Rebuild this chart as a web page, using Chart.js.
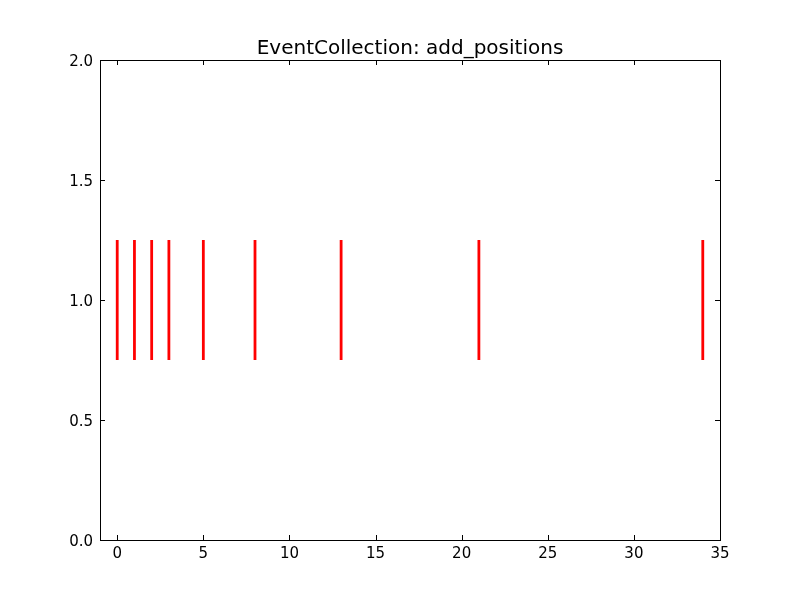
<!DOCTYPE html>
<html>
<head>
<meta charset="utf-8">
<script src="https://cdn.jsdelivr.net/npm/chart.js@4"></script>
<style>
  html, body { margin: 0; padding: 0; background: #fff; }
  #wrap { width: 800px; height: 600px; }
</style>
</head>
<body>
<div id="wrap"><canvas id="chart" width="800" height="600"></canvas></div>
<script>
const titleText = "EventCollection: add_positions";
const positions = [0, 1, 2, 3, 5, 8, 13, 21, 34];
const lineOffset = 1.0;
const lineLength = 0.5;
const xTicks = [0, 5, 10, 15, 20, 25, 30, 35];
const yTicks = [0.0, 0.5, 1.0, 1.5, 2.0];

const FONT = "'DejaVu Sans', sans-serif";

// one small dataset per event line
const datasets = positions.map((p) => ({
  data: [
    { x: p, y: lineOffset - lineLength / 2 },
    { x: p, y: lineOffset + lineLength / 2 },
  ],
  showLine: true,
  borderColor: "#ff0000",
  borderWidth: 2.8,
  pointRadius: 0,
  borderCapStyle: "butt",
}));

// frame + inward ticks on all four sides, plus title
const framePlugin = {
  id: "frame",
  afterDraw(chart) {
    const { ctx, chartArea: a, scales } = chart;
    ctx.save();
    ctx.strokeStyle = "#000";
    ctx.lineWidth = 1;
    const tl = 5;
    ctx.beginPath();
    xTicks.forEach((v) => {
      const px = Math.round(scales.x.getPixelForValue(v)) + 0.5;
      ctx.moveTo(px, a.bottom); ctx.lineTo(px, a.bottom - tl);
      ctx.moveTo(px, a.top); ctx.lineTo(px, a.top + tl);
    });
    yTicks.forEach((v) => {
      const py = Math.round(scales.y.getPixelForValue(v)) + 0.5;
      ctx.moveTo(a.left, py); ctx.lineTo(a.left + tl, py);
      ctx.moveTo(a.right, py); ctx.lineTo(a.right - tl, py);
    });
    ctx.stroke();
    ctx.strokeRect(a.left + 0.5, a.top + 0.5, a.right - a.left, a.bottom - a.top);

    ctx.fillStyle = "#000";
    ctx.font = "20px " + FONT;
    ctx.textAlign = "center";
    ctx.textBaseline = "alphabetic";
    ctx.fillText(titleText, (a.left + a.right) / 2, a.top - 6);
    ctx.restore();
  },
};

new Chart(document.getElementById("chart"), {
  type: "scatter",
  data: { datasets },
  options: {
    responsive: false,
    animation: false,
    layout: { padding: { top: 60, right: 80, left: 0, bottom: 0 } },
    plugins: { legend: { display: false }, tooltip: { enabled: false } },
    scales: {
      x: {
        type: "linear",
        min: -1,
        max: 35,
        afterBuildTicks: (s) => { s.ticks = xTicks.map((v) => ({ value: v })); },
        afterFit: (s) => { s.height = 60; },
        grid: { display: false, drawTicks: false, tickLength: 0 },
        border: { display: false },
        ticks: {
          color: "#000",
          font: { family: FONT, size: 15 },
          padding: 5,
          maxRotation: 0,
          callback: (v) => String(v),
        },
      },
      y: {
        type: "linear",
        min: 0,
        max: 2,
        afterBuildTicks: (s) => { s.ticks = yTicks.map((v) => ({ value: v })); },
        afterFit: (s) => { s.width = 100; },
        grid: { display: false, drawTicks: false, tickLength: 0 },
        border: { display: false },
        ticks: {
          color: "#000",
          font: { family: FONT, size: 15 },
          padding: 7,
          labelOffset: 2,
          callback: (v) => Number(v).toFixed(1),
        },
      },
    },
  },
  plugins: [framePlugin],
});
</script>
</body>
</html>
